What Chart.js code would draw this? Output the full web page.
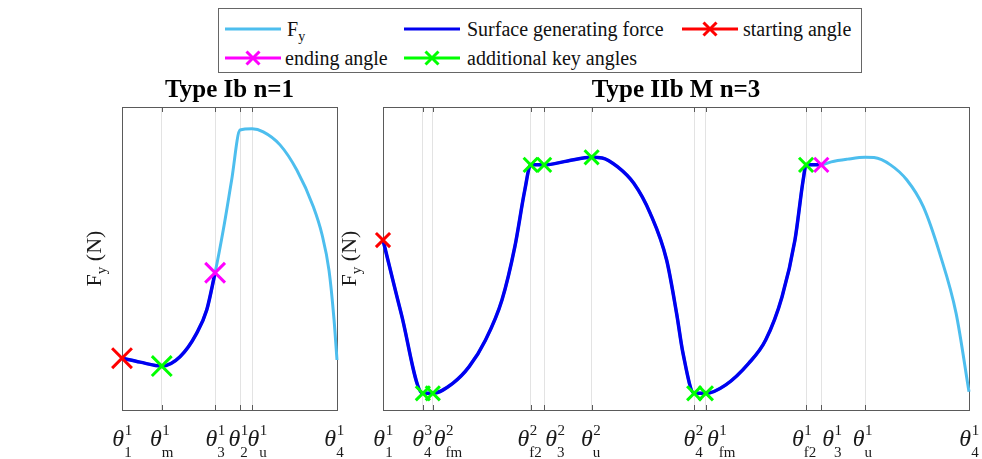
<!DOCTYPE html>
<html>
<head>
<meta charset="utf-8">
<script src="https://cdn.jsdelivr.net/npm/chart.js@4.4.0/dist/chart.umd.min.js"></script>
<style>
body{margin:0;background:#fff;width:982px;height:459px;overflow:hidden;position:relative;color:#111}
canvas{position:absolute;left:0;top:0}
#legend{position:absolute;left:218px;top:8px;width:644px;height:65px;border:1px solid #666;background:#fff;box-sizing:border-box}
#legend svg,#legend span{position:absolute}
#legend span{font:20px/20px "Liberation Serif","Times New Roman",serif;white-space:nowrap;color:#111}
#legend sub{font:14px/0 "Liberation Serif","Times New Roman",serif;vertical-align:-5px}
</style>
</head>
<body>
<canvas id="left" width="982" height="459"></canvas>
<canvas id="right" width="982" height="459"></canvas>
<div id="legend"></div>
<script>
// Type Ib n=1  (angle axis 0..100, Fy in arbitrary units 0..100)
const leftAngles = [0, 18.5, 43.3, 54.9, 60.5, 100];
const leftSup = ['1', '1', '1', '1', '1', '1'];
const leftSub = ['1', 'm', '3', '2', 'u', '4'];
const leftFyX = [0, 8.4, 18.5, 27.0, 34.7, 39.4, 43.3, 47.1, 51.0, 54.9, 60.5, 65.7, 73.5, 81.3, 89.0, 93.0, 96.3, 98.6, 100];
const leftFyY = [17.1, 15.8, 14.5, 17.6, 25.3, 33.0, 45.3, 59.4, 75.9, 92.4, 92.8, 91.8, 87.5, 79.2, 67.1, 58.0, 46.0, 30.0, 16.5];
const leftStart = [0, 17.1];
const leftEnd = [43.3, 45.3];
const leftKeyX = [18.5];
const leftKeyY = [14.5];

// Type IIb M n=3
const rightAngles = [0, 6.8, 8.5, 25.2, 27.5, 35.6, 53.1, 55.1, 72.2, 74.8, 82.3, 100];
const rightSup = ['1', '3', '2', '2', '2', '2', '2', '1', '1', '1', '1', '1'];
const rightSub = ['1', '4', 'fm', 'f2', '3', 'u', '4', 'fm', 'f2', '3', 'u', '4'];
const rightFyX = [0, 3.1, 6.8, 8.5, 11.9, 14.7, 17.5, 20.3, 22.5, 24.2, 25.2, 27.5, 31.5, 35.6, 37.4, 40.0, 42.8, 45.6, 48.4, 50.1, 51.2, 53.1,
  55.1, 58.5, 62.4, 65.3, 68.1, 70.3, 71.7, 72.2, 74.8, 76.5, 79.3, 82.3, 83.8, 86.6, 89.4, 92.2, 95.0, 97.8, 100];
const rightFyY = [56.1, 31.9, 5.5, 5.5, 8.8, 14.3, 23.1, 36.3, 53.9, 72.6, 80.9, 80.9, 82.2, 83.4, 83.2, 80.3, 74.8, 64.9, 49.5, 31.9, 18.7, 5.5,
  5.5, 8.3, 15.4, 23.1, 37.4, 56.1, 75.9, 80.9, 80.9, 81.9, 82.8, 83.4, 83.3, 80.9, 75.9, 67.1, 51.7, 31.9, 6.0];
const rightStart = [0, 56.1];
const rightEnd = [74.8, 80.9];
const rightKeyX = [6.8, 8.5, 25.2, 27.5, 35.6, 53.1, 55.1, 72.2];
const rightKeyY = [5.5, 5.5, 80.9, 80.9, 83.4, 5.5, 5.5, 80.9];

const colFy = '#4dbeee';
const colSurf = '#0000f0';
const colStart = '#ff0000';
const colEnd = '#ff00ff';
const colKey = '#00ff00';
const serif = '"Liberation Serif", "Times New Roman", serif';

function pts(xs, ys) {
  return xs.map((x, i) => ({x: x, y: ys[i]}));
}

function panelData(fyX, fyY, start, end, keyX, keyY, r) {
  const fy = pts(fyX, fyY);
  const surf = fy.filter(p => p.x >= start[0] && p.x <= end[0]);
  const mark = (data, c, ord) => ({
    data: data, showLine: false, pointStyle: 'crossRot', pointRadius: r, pointHoverRadius: r,
    borderColor: c, backgroundColor: c, pointBorderWidth: 3, clip: false, order: ord
  });
  return {
    datasets: [
      {label: 'Fy', data: fy, showLine: true, borderColor: colFy, borderWidth: 3, pointRadius: 0,
        cubicInterpolationMode: 'monotone', clip: false, order: 3},
      {label: 'Surface generating force', data: surf, showLine: true, borderColor: colSurf, borderWidth: 3.5, pointRadius: 0,
        cubicInterpolationMode: 'monotone', clip: false, order: 2},
      mark(pts(keyX, keyY), colKey, 1),
      mark([{x: start[0], y: start[1]}], colStart, 0),
      mark([{x: end[0], y: end[1]}], colEnd, 0)
    ]
  };
}

// box, inner tick marks, theta labels, title and y label
const panelText = {
  id: 'panelText',
  beforeDatasetsDraw(chart, args, o) {
    const ctx = chart.ctx, a = chart.chartArea, x = chart.scales.x;
    ctx.save();
    ctx.strokeStyle = '#5a5a5a';
    ctx.lineWidth = 1;
    x.ticks.forEach(t => {
      const px = Math.round(x.getPixelForValue(t.value)) + 0.5;
      ctx.beginPath();
      ctx.moveTo(px, a.bottom); ctx.lineTo(px, a.bottom - 5);
      ctx.moveTo(px, a.top); ctx.lineTo(px, a.top + 5);
      ctx.stroke();
    });
    ctx.strokeRect(Math.round(a.left) + 0.5, Math.round(a.top) + 0.5, Math.round(a.width), Math.round(a.height));
    ctx.restore();
  },
  afterDraw(chart, args, o) {
    const ctx = chart.ctx, a = chart.chartArea, x = chart.scales.x;
    ctx.save();
    ctx.fillStyle = '#1a1a1a';
    ctx.textBaseline = 'alphabetic';
    ctx.textAlign = 'left';
    x.ticks.forEach((t, i) => {
      const px = x.getPixelForValue(t.value);
      ctx.font = 'italic 24px ' + serif;
      const tw = ctx.measureText('θ').width;
      ctx.font = '15px ' + serif;
      const sw = Math.max(ctx.measureText(o.sup[i]).width, ctx.measureText(o.sub[i]).width);
      let x0 = px - (tw + sw) / 2 + (o.shift[i] || 0);
      if (o.anchorStart.includes(i)) x0 = px + 1;
      ctx.font = 'italic 24px ' + serif;
      ctx.fillText('θ', x0, 446);
      ctx.font = '15px ' + serif;
      ctx.fillText(o.sup[i], x0 + tw + 0.5, 435);
      ctx.fillText(o.sub[i], x0 + tw, 457);
    });
    // title
    ctx.fillStyle = '#000';
    ctx.font = 'bold 25px ' + serif;
    ctx.textAlign = 'center';
    ctx.fillText(o.title, (a.left + a.right) / 2, 97);
    // y label
    ctx.translate(o.yLabelX, (a.top + a.bottom) / 2);
    ctx.rotate(-Math.PI / 2);
    ctx.textAlign = 'left';
    ctx.fillStyle = '#1a1a1a';
    ctx.font = '22px ' + serif;
    const fw = ctx.measureText('F').width, nw = ctx.measureText(' (N)').width;
    ctx.font = '15px ' + serif;
    const yw = ctx.measureText('y').width;
    const s = -(fw + yw + nw) / 2;
    ctx.font = '22px ' + serif;
    ctx.fillText('F', s, 0);
    ctx.fillText(' (N)', s + fw + yw, 0);
    ctx.font = '15px ' + serif;
    ctx.fillText('y', s + fw, 5);
    ctx.restore();
  }
};

function makePanel(id, data, angles, pad, text) {
  return new Chart(document.getElementById(id), {
    type: 'scatter',
    data: data,
    options: {
      responsive: false,
      animation: false,
      events: [],
      layout: {padding: pad},
      scales: {
        x: {
          type: 'linear', min: 0, max: 100,
          afterBuildTicks: s => { s.ticks = angles.map(v => ({value: v})); },
          ticks: {display: false},
          grid: {color: '#e3e3e3', lineWidth: 1, drawTicks: false},
          border: {display: false}
        },
        y: {display: false, min: 0, max: 100}
      },
      plugins: {legend: {display: false}, tooltip: {enabled: false}, panelText: text}
    },
    plugins: [panelText]
  });
}

makePanel('left', panelData(leftFyX, leftFyY, leftStart, leftEnd, leftKeyX, leftKeyY, 14), leftAngles,
  {left: 122, right: 645, top: 107, bottom: 49},
  {title: 'Type Ib n=1', yLabelX: 101, sup: leftSup, sub: leftSub, shift: [0, 0, 0, -2, 5, -3], anchorStart: []});

makePanel('right', panelData(rightFyX, rightFyY, rightStart, rightEnd, rightKeyX, rightKeyY, 10), rightAngles,
  {left: 383, right: 6, top: 107, bottom: 49},
  {title: 'Type IIb M n=3', yLabelX: 356, sup: rightSup, sub: rightSub, shift: [0, -1, 0, -1, 0, -1, -1, 0, -2, 0, -3, 0], anchorStart: [2, 4, 7, 9]});

// legend
const legendItems = [
  {text: 'F', sub: 'y', color: colFy, marker: false, left: 6, top: 20, textLeft: 68},
  {text: 'Surface generating force', color: colSurf, marker: false, left: 185, top: 20, textLeft: 248},
  {text: 'starting angle', color: colStart, marker: true, left: 463, top: 20, textLeft: 524},
  {text: 'ending angle', color: colEnd, marker: true, left: 6, top: 49, textLeft: 66},
  {text: 'additional key angles', color: colKey, marker: true, left: 185, top: 49, textLeft: 248}
];
const legend = document.getElementById('legend');
legendItems.forEach(it => {
  const mk = it.marker ? '<path d="M21.5 1.5L34.5 14.5M34.5 1.5L21.5 14.5" stroke="' + it.color + '" stroke-width="3"/>' : '';
  legend.insertAdjacentHTML('beforeend',
    '<svg width="56" height="16" style="left:' + it.left + 'px;top:' + (it.top - 8) + 'px">' +
    '<line x1="0" y1="8" x2="56" y2="8" stroke="' + it.color + '" stroke-width="3"/>' + mk + '</svg>' +
    '<span style="left:' + it.textLeft + 'px;top:' + (it.top - 10) + 'px">' + it.text + (it.sub ? '<sub>' + it.sub + '</sub>' : '') + '</span>');
});
</script>
</body>
</html>
